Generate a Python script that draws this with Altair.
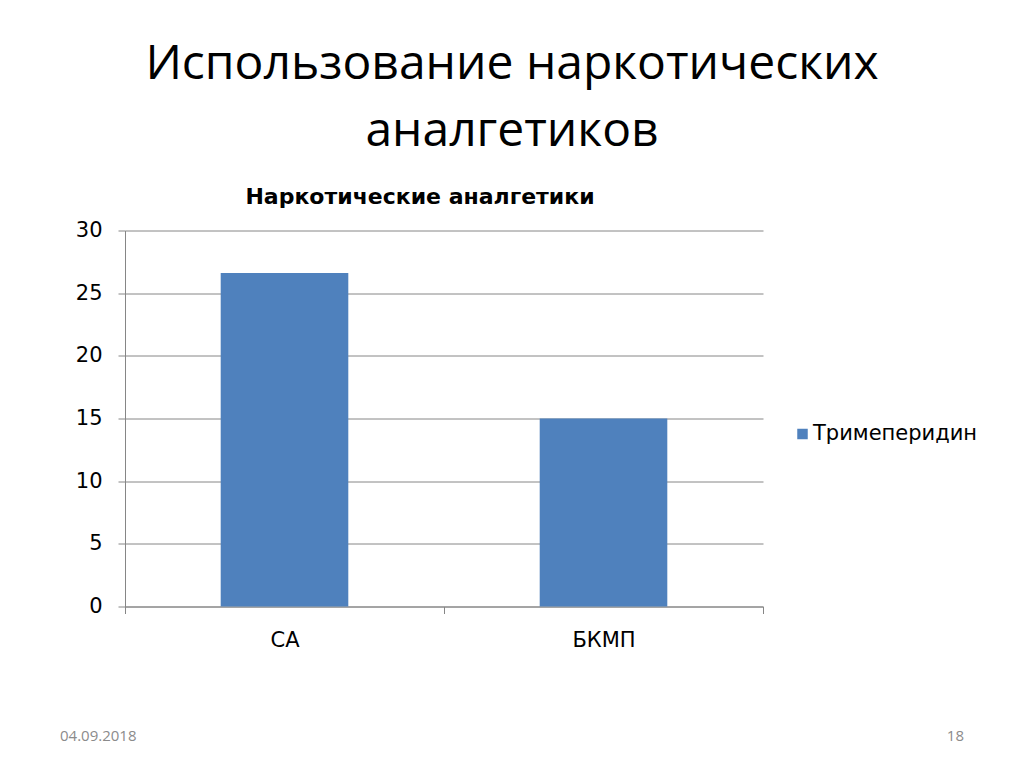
import altair as alt
import pandas as pd

# ---- data ----
categories = ["СА", "БКМП"]
values = [26.6, 15]
series_name = "Тримеперидин"
y_ticks = [0, 5, 10, 15, 20, 25, 30]

slide_title_line1 = "Использование наркотических"
slide_title_line2 = "аналгетиков"
chart_title = "Наркотические аналгетики"
footer_date = "04.09.2018"
footer_page = "18"

W, H = 638, 376
CHART_FONT = "DejaVu Sans"
SLIDE_FONT = "Open Sans"
GRAY = "#868686"
BAR = "#4f81bd"

df = pd.DataFrame({"cat": categories, "val": values, "series": [series_name] * len(categories)})

bars = alt.Chart(df).mark_bar(width=alt.RelativeBandSize(0.4), color=BAR).encode(
    x=alt.X("cat:N", sort=categories, title=None,
            scale=alt.Scale(paddingInner=0, paddingOuter=0),
            axis=alt.Axis(tickBand="extent", labelAngle=0, labelFont=CHART_FONT,
                          labelFontSize=21, labelColor="#000000", labelPadding=16,
                          tickSize=7, tickColor=GRAY, domainColor=GRAY, grid=False)),
    y=alt.Y("val:Q", title=None,
            scale=alt.Scale(domain=[0, 30], nice=False),
            axis=alt.Axis(values=y_ticks, labelFont=CHART_FONT, labelFontSize=21,
                          labelColor="#000000", labelPadding=16, tickSize=7,
                          tickColor=GRAY, domainColor=GRAY, gridColor=GRAY,
                          gridOpacity=1, grid=True)),
    color=alt.Color("series:N", title=None,
                    scale=alt.Scale(domain=[series_name], range=[BAR]),
                    legend=alt.Legend(orient="none", legendX=667, legendY=193,
                                      symbolType="square", symbolSize=110,
                                      symbolStrokeWidth=0, symbolOpacity=1,
                                      labelFont=CHART_FONT, labelFontSize=21,
                                      labelColor="#000000", labelOffset=0,
                                      labelLimit=400, padding=0)),
)


def text_layer(txt, x, y, size, font, color="#000000", weight="normal", align="center"):
    d = pd.DataFrame({"t": [txt]})
    return alt.Chart(d).mark_text(
        font=font, fontSize=size, color=color, fontWeight=weight,
        align=align, baseline="alphabetic"
    ).encode(x=alt.value(x), y=alt.value(y), text="t:N")


t1 = text_layer(slide_title_line1, 387, -152, 48, SLIDE_FONT)
t2 = text_layer(slide_title_line2, 387, -85, 48, SLIDE_FONT)
t3 = text_layer(chart_title, 295, -27, 22, CHART_FONT, weight="bold")
f1 = text_layer(footer_date, -65, 510, 15, SLIDE_FONT, color="#8b8b8b", align="left")
f2 = text_layer(footer_page, 839, 510, 15, SLIDE_FONT, color="#8b8b8b", align="right")

chart = alt.layer(bars, t1, t2, t3, f1, f2).properties(
    width=W, height=H,
    padding={"left": 117, "top": 222.5, "right": 245, "bottom": 145},
    autosize=alt.AutoSizeParams(type="none"),
    background="white",
).configure_view(stroke=None)

chart.save("out.html", embed_options={"renderer": "svg", "actions": False})
